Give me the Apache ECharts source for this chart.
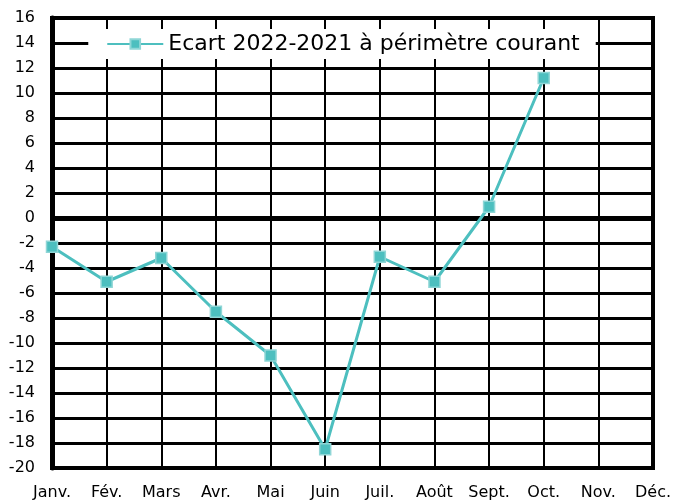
<!DOCTYPE html>
<html><head><meta charset="utf-8">
<script src="https://cdn.jsdelivr.net/npm/echarts@6/dist/echarts.min.js"></script>
<style>html,body{margin:0;padding:0;background:#fff}#c{width:686px;height:504px}</style>
</head><body><div id="c"></div>
<script>
const months = ['Janv.','Fév.','Mars','Avr.','Mai','Juin','Juil.','Août','Sept.','Oct.','Nov.','Déc.'];
const ecart = [-2.3,-5.1,-3.2,-7.5,-11.0,-18.5,-3.1,-5.1,0.9,11.2,null,null];
const seriesName = 'Ecart 2022-2021 à périmètre courant';
const yMin = -20, yMax = 16, yStep = 2;

const chart = echarts.init(document.getElementById('c'));
const font = 'DejaVu Sans';
chart.setOption({
  animation:false,
  backgroundColor:'#fff',
  grid:{left:52,right:33,top:18,bottom:36,show:true,borderColor:'#000',borderWidth:4,backgroundColor:'transparent',z:3},
  legend:{
    top:29, left:'center',
    backgroundColor:'#fff', padding:[4,16,4,18],
    itemWidth:56, itemHeight:12, itemGap:8,
    textStyle:{fontFamily:font,fontSize:22,color:'#000'},
    data:[seriesName]
  },
  xAxis:{
    type:'category', data:months, boundaryGap:false,
    axisLine:{show:true,onZero:false,lineStyle:{color:'#000',width:4}},
    axisTick:{show:false},
    axisLabel:{fontFamily:font,fontSize:16,color:'#000',margin:17},
    splitLine:{show:true,lineStyle:{color:'#000',width:2}}
  },
  yAxis:{
    type:'value', min:yMin, max:yMax, interval:yStep,
    axisLine:{show:true,lineStyle:{color:'#000',width:5}},
    axisTick:{show:false},
    axisLabel:{fontFamily:font,fontSize:16,color:'#000',margin:17},
    splitLine:{show:true,lineStyle:{color:'#000',width:3}}
  },
  series:[{
    name:seriesName, type:'line', data:ecart, z:5,
    symbol:'rect', symbolSize:11,
    lineStyle:{color:'#4DBFBF',width:3},
    itemStyle:{color:'#4DBFBF',borderColor:'#8FD6D6',borderWidth:1.5},
    markLine:{silent:true,symbol:'none',label:{show:false},lineStyle:{color:'#000',width:5,type:'solid'},data:[{yAxis:0}],z:2}
  }]
});
</script></body></html>
